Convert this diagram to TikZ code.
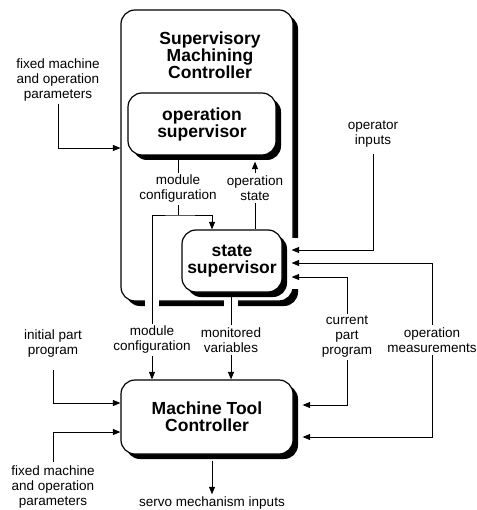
\documentclass[tikz,border=0pt]{standalone}
\usepackage{fontspec}
\setmainfont{Liberation Sans}
\usetikzlibrary{arrows.meta,shadows,calc}

\begin{document}
\begin{tikzpicture}[x=1pt,y=-1pt,line width=0.9pt,
    >={Triangle[length=7.5pt,width=6pt]},
    box/.style={draw,line width=1.2pt,fill=white,rounded corners=14pt,
        drop shadow={shadow xshift=5pt,shadow yshift=-5pt,fill=black,opacity=1},
        font=\fontsize{17.5}{17}\selectfont\bfseries,align=center},
    lbl/.style={font=\fontsize{13.5}{15}\selectfont,align=center,inner sep=2pt}]
    \useasboundingbox (0,0) rectangle (476,510);

    % frame of the supervisory controller
    \node[box,minimum width=172,minimum height=291] (smc) at (207,155.5) {};
    \fill[white] (290,238) rectangle (306,289);
    \fill[white] (145,296) rectangle (159,312);
    \fill[white] (224,298) rectangle (238,312);
    \node[font=\fontsize{17.5}{17}\selectfont\bfseries,align=center] (smctitle) at (210,55) {Supervisory\\Machining\\Controller};

    % blocks
    \node[box,minimum width=148,minimum height=62] (opsup) at (202,124) {operation\\supervisor};
    \node[box,minimum width=100,minimum height=62] (stsup) at (232,261) {state\\supervisor};
    \node[box,minimum width=172,minimum height=74] (mtc) at (207,417) {Machine Tool\\Controller};

    % labels
    \node[lbl] (fixtop) at (58,80) {fixed machine\\and operation\\parameters};
    \node[lbl] (initpp) at (53,344) {initial part\\program};
    \node[lbl] (fixbot) at (53,487) {fixed machine\\and operation\\parameters};
    \node[lbl] (servo) at (212,503) {servo mechanism inputs};
    \node[lbl] (mcfga) at (178,189) {module\\configuration};
    \node[lbl] (opst) at (255,188) {operation\\state};
    \node[lbl] (mcfgb) at (152,340) {module\\configuration};
    \node[lbl] (monvar) at (231,340) {monitored\\variables};
    \node[lbl] (curpp) at (347,337) {current\\part\\program};
    \node[lbl] (opmeas) at (432,340) {operation\\measurements};
    \node[lbl] (opin) at (373,134) {operator\\inputs};
    \coordinate (mcj) at (178,215);

    % connections
    \draw[->] (fixtop) |- ($(smc.west)+(0,-7.5)$);
    \draw[->,shorten <=10pt] (initpp) |- ($(mtc.west)+(0,-14)$);
    \draw[->,shorten <=1pt] (fixbot) |- ($(mtc.west)+(0,15)$);
    \draw[->] ($(mtc.south)+(5,6)$) -- (servo);
    \draw (opsup.south -| mcfga) -- (mcfga) -- (mcj);
    \draw[->] (mcfgb) |- (mcj) -| ($(stsup.north)+(-20,0)$);
    \draw[->] (mcfgb) -- (mcfgb |- mtc.north);
    \draw[->] (stsup.north -| opst) -- (opst) -- ($(opsup.south -| opst)+(0,6)$);
    \draw[->] (stsup.south -| monvar) -- (monvar) -- (monvar |- mtc.north);
    \draw[->,shorten <=4pt] (opin) |- ($(stsup.east)+(9,-11)$);
    \draw[->] (opmeas) |- ($(stsup.east)+(9,2)$);
    \draw[->] (opmeas) |- ($(mtc.east)+(9,20)$);
    \draw[->] (curpp) |- ($(stsup.east)+(9,16)$);
    \draw[->] (curpp) |- ($(mtc.east)+(9,-12)$);
\end{tikzpicture}
\end{document}
